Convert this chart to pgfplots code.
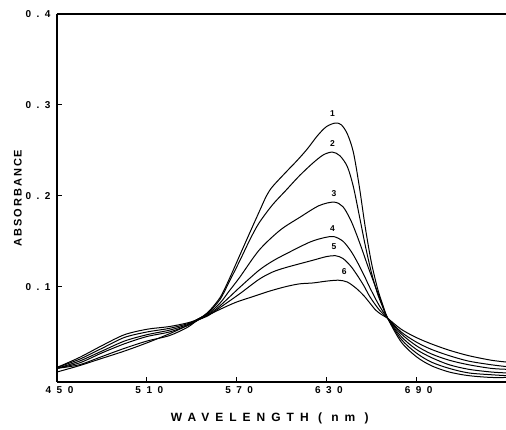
\documentclass[border=0pt]{standalone}
\usepackage{pgfplots}
\pgfplotsset{compat=1.18}
\usepackage{fontspec}
\setmainfont{Liberation Sans}
\newfontfamily\ticks[LetterSpace=55]{Liberation Sans}
\newfontfamily\xlab[LetterSpace=50]{Liberation Sans}
\newfontfamily\ylab[LetterSpace=18]{Liberation Sans}

\begin{document}
\begin{tikzpicture}
\begin{axis}[
  scale only axis,
  width=449pt, height=368pt,
  xmin=450, xmax=750, ymin=-0.005, ymax=0.4,
  axis y line*=left,
  xtick pos=left, ytick pos=left,
  xtick={450,510,570,630,690}, xticklabels={450,510,570,630,690},
  ytick={0.1,0.2,0.3,0.4}, yticklabels={0.1,0.2,0.3,0.4},
  tick align=inside, major tick length=5pt,
  axis line style={line width=1.6pt},
  tick style={line width=1pt, black},
  tick label style={font=\ticks\bfseries\fontsize{10}{12}\selectfont},
  yticklabel style={xshift=-3pt},
  xticklabel style={yshift=-1pt, xshift=2.5pt},
  xlabel={WAVELENGTH ( nm )}, ylabel={ABSORBANCE},
  every axis x label/.style={at={(axis description cs:0.474,-0.1)}, anchor=center,
    font=\xlab\bfseries\fontsize{12}{14}\selectfont},
  every axis y label/.style={at={(axis description cs:-0.087,0.5)}, anchor=center, rotate=90,
    font=\ylab\bfseries\fontsize{11}{13}\selectfont},
  clip=true,
]
% curve 1
\addplot[black, line width=1pt, smooth] coordinates {
(450,0.011) (465,0.022) (480,0.035) (495,0.047) (510,0.053) (525,0.056) (537,0.060) (544,0.064)
(551,0.072) (559,0.088) (565,0.108) (572,0.134) (579,0.160) (585,0.182) (590,0.200) (594,0.210)
(603,0.226) (610,0.238) (617,0.251) (624,0.266) (630,0.276) (636,0.280) (640,0.278) (644,0.268)
(648,0.248) (652,0.210) (656,0.165) (660,0.127) (664,0.099) (667,0.083) (671,0.065)
(680,0.039) (690,0.023) (700,0.013) (712,0.006) (725,0.002) (740,0.000) (750,0.000)};
% curve 2
\addplot[black, line width=1pt, smooth] coordinates {
(450,0.011) (465,0.020) (480,0.032) (495,0.044) (510,0.050) (525,0.054) (537,0.059) (544,0.064)
(551,0.071) (559,0.086) (565,0.105) (572,0.128) (579,0.152) (585,0.170) (594,0.190) (603,0.206)
(612,0.222) (621,0.236) (628,0.245) (634,0.248) (639,0.244) (644,0.232) (648,0.210) (652,0.178)
(656,0.145) (660,0.116) (664,0.093) (667,0.080) (671,0.065)
(680,0.042) (690,0.027) (700,0.017) (712,0.010) (725,0.005) (740,0.003) (750,0.002)};
% curve 3
\addplot[black, line width=1pt, smooth] coordinates {
(450,0.010) (465,0.018) (480,0.029) (495,0.040) (510,0.047) (525,0.052) (537,0.058) (544,0.064)
(551,0.070) (559,0.082) (565,0.095) (572,0.110) (585,0.140) (599,0.162) (612,0.176) (625,0.189)
(635,0.193) (641,0.188) (646,0.174) (650,0.158) (654,0.140) (658,0.121) (663,0.099) (667,0.082)
(671,0.065) (680,0.045) (690,0.031) (700,0.022) (712,0.014) (725,0.009) (740,0.006) (750,0.005)};
% curve 4
\addplot[black, line width=1pt, smooth] coordinates {
(450,0.010) (465,0.016) (480,0.027) (495,0.037) (510,0.045) (525,0.050) (537,0.057) (544,0.063)
(551,0.069) (559,0.079) (572,0.099) (585,0.118) (594,0.128) (603,0.136) (619,0.149) (629,0.154)
(635,0.155) (641,0.150) (646,0.140) (650,0.129) (655,0.113) (659,0.099) (665,0.080) (671,0.065)
(680,0.048) (690,0.035) (700,0.026) (712,0.019) (725,0.014) (740,0.010) (750,0.009)};
% curve 5
\addplot[black, line width=1pt, smooth] coordinates {
(450,0.010) (465,0.014) (480,0.023) (495,0.032) (510,0.040) (525,0.046) (537,0.055) (544,0.063)
(551,0.068) (559,0.077) (572,0.092) (585,0.108) (594,0.116) (603,0.121) (621,0.129) (630,0.133)
(636,0.134) (641,0.131) (646,0.123) (650,0.114) (655,0.101) (659,0.089) (665,0.075) (671,0.065)
(680,0.050) (690,0.039) (700,0.031) (712,0.024) (725,0.018) (740,0.014) (750,0.012)};
% curve 6
\addplot[black, line width=1pt, smooth] coordinates {
(450,0.006) (465,0.013) (480,0.021) (495,0.029) (510,0.038) (525,0.048) (537,0.057) (544,0.063)
(559,0.075) (570,0.083) (581,0.089) (592,0.095) (603,0.100) (612,0.103) (621,0.104) (630,0.106)
(638,0.107) (644,0.105) (650,0.098) (655,0.090) (659,0.082) (663,0.074) (667,0.069) (671,0.065)
(680,0.053) (690,0.044) (700,0.037) (712,0.030) (725,0.024) (740,0.019) (750,0.017)};

\begin{scope}[font=\bfseries\fontsize{8.5}{10}\selectfont]
\node at (axis cs:634,0.290) {1};
\node at (axis cs:634,0.257) {2};
\node at (axis cs:635,0.202) {3};
\node at (axis cs:634,0.164) {4};
\node at (axis cs:635,0.144) {5};
\node at (axis cs:642,0.116) {6};
\end{scope}
\end{axis}
\pgfresetboundingbox
\path[use as bounding box] ([xshift=-57pt,yshift=-48pt]current axis.south west)
  rectangle ([yshift=14pt]current axis.north east);
\end{tikzpicture}
\end{document}
